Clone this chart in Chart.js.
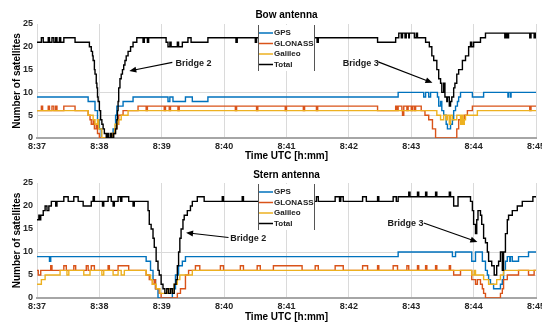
<!DOCTYPE html>
<html>
<head>
<meta charset="utf-8">
<script src="https://cdn.jsdelivr.net/npm/chart.js@4.4.0/dist/chart.umd.min.js"></script>
<style>
  html, body { margin: 0; padding: 0; background: #fff; }
  .panel { width: 542px; height: 161px; }
</style>
</head>
<body>
<div class="panel"><canvas id="bow" width="542" height="161"></canvas></div>
<div class="panel"><canvas id="stern" width="542" height="161"></canvas></div>
<script>
// time in minutes after 8:37, value = number of satellites (step data)
const seriesNames = ['GPS', 'GLONASS', 'Galileo', 'Total'];
const tickLabels = ['8:37', '8:38', '8:39', '8:40', '8:41', '8:42', '8:43', '8:44', '8:45'];

// Bow antenna
const bowGps = [[0,9],[0.82,8],[0.93,6],[0.97,4],[1.00,2],[1.03,0],[1.22,2],[1.26,5],[1.28,7],[1.38,8],[1.54,9],
  [2.10,8],[2.13,9],[2.18,8],[2.38,9],[2.49,8],[2.74,9],[5.79,10],[6.20,9],[6.23,10],[6.28,9],[6.31,10],[6.42,9],
  [6.44,7],[6.47,8],[6.49,6],[6.52,5],[6.56,3],[6.58,2],[6.63,3],[6.66,4],[6.68,6],[6.71,7],[6.74,8],[6.76,9],
  [6.79,10],[6.98,9],[7.16,10],[7.55,9],[7.56,10],[7.59,9],[7.60,10],[8,10]];
const bowGlonass = [[0,6],[0.07,7],[0.09,6],[0.18,7],[0.20,6],[0.24,7],[0.27,6],[0.30,7],[0.32,6],[0.43,7],[0.61,6],
  [0.82,5],[0.85,4],[0.87,3],[0.90,4],[0.92,2],[0.95,3],[0.97,1],[1.00,0],[1.22,1],[1.25,2],[1.28,3],[1.31,5],
  [1.38,6],[1.62,7],[1.75,6],[1.77,7],[2.04,6],[2.06,7],[2.12,6],[2.14,7],[2.26,6],[2.28,7],[3.18,6],[3.20,7],
  [3.52,6],[3.54,7],[3.98,6],[4.00,7],[4.27,6],[4.29,7],[4.48,6],[4.50,7],[5.46,6],[5.75,7],[5.77,6],[5.79,7],
  [5.85,6],[5.86,5],[5.88,7],[5.93,6],[5.95,7],[6.00,6],[6.02,7],[6.05,6],[6.07,7],[6.16,6],[6.22,5],[6.28,4],
  [6.34,2],[6.39,0],[6.73,2],[6.76,4],[6.85,5],[6.90,6],[6.98,7],[7.90,6],[7.92,7],[8,7]];
const bowGalileo = [[0,6],[0.82,5],[0.90,4],[0.93,3],[0.97,4],[0.99,2],[1.04,0],[1.20,1],[1.25,3],[1.30,4],[1.35,5],
  [1.46,6],[6.41,5],[6.47,4],[6.52,5],[6.56,4],[6.58,5],[6.61,3],[6.63,5],[6.66,4],[6.73,5],[6.79,3],[6.81,5],
  [6.83,3],[6.85,4],[6.87,5],[7.06,6],[8,6]];
const bowTotal = [[0,21],[0.07,22],[0.10,21],[0.18,22],[0.20,21],[0.24,22],[0.27,21],[0.30,22],[0.32,21],[0.36,22],
  [0.38,21],[0.43,22],[0.61,21],[0.84,20],[0.87,19],[0.89,18],[0.90,17],[0.92,15],[0.93,14],[0.95,12],[0.96,11],
  [0.97,9],[0.98,8],[1.00,6],[1.02,4],[1.04,3],[1.06,2],[1.08,1],[1.11,0],[1.13,1],[1.15,0],[1.18,1],[1.20,0],
  [1.23,1],[1.26,2],[1.28,4],[1.29,6],[1.30,8],[1.31,11],[1.33,13],[1.35,14],[1.37,15],[1.39,16],[1.41,17],
  [1.43,18],[1.46,19],[1.50,20],[1.54,21],[1.60,22],[1.70,21],[1.72,22],[1.77,21],[1.79,22],[2.07,21],[2.10,20],
  [2.13,21],[2.15,20],[2.25,21],[2.27,20],[2.33,21],[2.42,22],[2.47,21],[2.74,22],[3.19,21],[3.21,22],[3.50,21],
  [3.52,22],[4.49,21],[4.51,22],[5.46,21],[5.75,22],[5.80,23],[5.84,22],[5.86,23],[5.90,22],[5.92,23],[5.96,22],
  [5.97,23],[6.05,22],[6.08,23],[6.10,22],[6.23,21],[6.29,20],[6.33,18],[6.36,17],[6.41,15],[6.44,13],[6.47,12],
  [6.49,10],[6.52,12],[6.54,9],[6.57,8],[6.58,9],[6.61,7],[6.63,8],[6.65,9],[6.68,11],[6.70,12],[6.73,14],
  [6.76,15],[6.82,17],[6.87,18],[6.92,20],[6.95,21],[6.97,20],[7.00,21],[7.11,22],[7.19,23],[7.50,22],[7.52,23],
  [7.54,22],[7.56,23],[7.90,22],[7.92,23],[7.97,22],[7.99,23],[8,23]];

// Stern antenna
const sternGps = [[0,9],[0.20,8],[0.22,9],[1.75,8],[1.82,6],[1.86,4],[1.90,2],[1.94,0],[2.17,2],[2.22,5],[2.27,7],
  [2.33,8],[2.38,9],[5.79,10],[6.66,9],[6.71,10],[6.97,8],[7.03,10],[7.14,8],[7.19,6],[7.22,5],[7.24,4],[7.27,3],
  [7.32,2],[7.43,3],[7.46,4],[7.48,6],[7.51,8],[7.54,9],[7.58,8],[7.59,9],[7.62,8],[7.72,9],[7.88,10],[8,10]];
const sternGlonass = [[0,6],[0.02,5],[0.06,6],[0.22,7],[0.24,6],[0.43,7],[0.47,6],[0.59,7],[0.62,6],[0.79,7],[0.82,6],
  [0.87,7],[0.92,6],[1.14,7],[1.16,6],[1.30,7],[1.47,6],[1.75,5],[1.80,4],[1.85,3],[1.88,4],[1.90,2],[1.96,1],
  [1.99,0],[2.25,1],[2.30,2],[2.38,5],[2.43,6],[2.54,7],[2.61,6],[2.94,7],[2.99,6],[3.26,7],[3.31,6],[3.53,7],
  [3.58,6],[3.79,7],[4.25,6],[4.46,7],[4.51,6],[4.78,7],[4.91,6],[5.22,7],[5.30,6],[5.46,7],[5.48,6],[5.71,7],
  [5.78,6],[5.93,7],[5.96,6],[6.10,7],[6.12,6],[6.23,7],[6.25,6],[6.39,7],[6.41,6],[6.61,7],[6.63,6],[6.68,5],
  [6.79,6],[6.97,4],[7.03,3],[7.06,4],[7.11,3],[7.14,2],[7.16,1],[7.19,0],[7.43,1],[7.46,2],[7.48,4],[7.54,5],
  [7.72,6],[7.88,5],[7.97,6],[8,6]];
const sternGalileo = [[0,3],[0.07,4],[0.13,5],[0.37,6],[0.48,5],[0.51,6],[0.75,5],[0.85,6],[1.04,5],[1.07,6],[1.22,5],
  [1.30,6],[1.35,5],[1.40,6],[1.75,5],[1.82,4],[1.85,3],[1.91,2],[1.97,1],[2.10,2],[2.17,1],[2.20,3],[2.25,4],
  [2.29,5],[2.49,6],[6.97,5],[7.01,6],[7.03,5],[7.16,4],[7.24,3],[7.37,4],[7.43,5],[7.48,6],[8,6]];
const sternTotal = [[0,17],[0.03,18],[0.05,17],[0.06,18],[0.10,19],[0.13,20],[0.16,19],[0.19,20],[0.23,21],[0.30,20],
  [0.32,21],[0.43,22],[0.50,21],[0.59,22],[0.66,21],[0.74,20],[0.87,21],[0.90,22],[0.92,21],[1.05,20],[1.07,21],
  [1.14,22],[1.19,21],[1.22,20],[1.24,21],[1.30,22],[1.34,21],[1.36,22],[1.47,21],[1.54,20],[1.56,21],[1.78,19],
  [1.80,16],[1.83,15],[1.86,13],[1.88,11],[1.91,8],[1.94,6],[1.96,5],[1.99,3],[2.02,2],[2.05,1],[2.08,2],[2.11,1],
  [2.14,2],[2.17,1],[2.20,3],[2.23,4],[2.25,7],[2.27,10],[2.29,13],[2.31,15],[2.34,17],[2.36,18],[2.41,19],
  [2.46,20],[2.49,21],[2.57,22],[2.68,21],[2.97,22],[2.99,21],[3.29,22],[3.31,21],[4.48,22],[4.51,21],[4.78,22],
  [4.85,21],[4.87,22],[4.91,21],[5.22,22],[5.28,21],[5.46,22],[5.48,21],[5.71,22],[5.76,21],[5.79,22],[5.96,23],
  [5.98,22],[6.10,23],[6.12,22],[6.23,23],[6.25,22],[6.39,23],[6.41,22],[6.61,23],[6.63,22],[6.68,20],[6.75,22],
  [6.95,21],[6.98,19],[7.00,16],[7.03,14],[7.05,17],[7.07,19],[7.11,18],[7.13,16],[7.16,13],[7.19,12],[7.22,10],
  [7.24,8],[7.29,7],[7.33,5],[7.37,7],[7.40,8],[7.43,10],[7.46,6],[7.48,10],[7.51,14],[7.54,17],[7.56,18],
  [7.62,19],[7.70,20],[7.78,21],[7.95,22],[8,22]];

// annotation arrows: text anchor, arrow start, arrow head (time, satellites)
const bowNotes = [
  { label: 'Bridge 2', at: [2.22, 16.4], from: [2.17, 16.6], to: [1.48, 14.7] },
  { label: 'Bridge 3', at: [4.90, 16.4], from: [5.47, 16.7], to: [6.34, 12.1] }
];
const sternNotes = [
  { label: 'Bridge 2', at: [3.10, 13.0], from: [3.07, 13.15], to: [2.39, 14.2] },
  { label: 'Bridge 3', at: [5.62, 16.3], from: [6.20, 16.3], to: [7.06, 12.2] }
];

const colors = ['#0072bd', '#d95319', '#edb120', '#000000'];
Chart.defaults.font.family = '"Liberation Sans", Arial, sans-serif';
Chart.defaults.color = '#262626';

function pts(arr) {
    return arr.map(p => ({ x: p[0], y: p[1] }));
}

const legendBox = {
    id: 'legendBox',
    afterDatasetsDraw(chart) {
        const ctx = chart.ctx;
        const top = chart.chartArea.top + 1;
        const left = 258, right = 315, bottom = top + 46;
        ctx.save();
        ctx.fillStyle = '#fff';
        ctx.fillRect(left, top, right - left, bottom - top);
        ctx.strokeStyle = '#555';
        ctx.lineWidth = 1;
        ctx.beginPath();
        ctx.moveTo(left + 0.5, top); ctx.lineTo(left + 0.5, bottom);
        ctx.moveTo(right - 0.5, top); ctx.lineTo(right - 0.5, bottom);
        ctx.stroke();
        ctx.font = 'bold 8px "Liberation Sans", Arial, sans-serif';
        ctx.textBaseline = 'middle';
        chart.data.datasets.forEach((ds, i) => {
            const y = top + 8 + i * 10.5;
            ctx.strokeStyle = ds.borderColor;
            ctx.lineWidth = 1.5;
            ctx.beginPath();
            ctx.moveTo(left + 1, y); ctx.lineTo(left + 15, y);
            ctx.stroke();
            ctx.fillStyle = '#222';
            ctx.fillText(ds.label, left + 16, y);
        });
        ctx.restore();
    }
};

const bridgeNotes = {
    id: 'bridgeNotes',
    afterDatasetsDraw(chart, args, opts) {
        const ctx = chart.ctx;
        const xs = chart.scales.x, ys = chart.scales.y;
        ctx.save();
        (opts.notes || []).forEach(n => {
            const x0 = xs.getPixelForValue(n.from[0]), y0 = ys.getPixelForValue(n.from[1]);
            const x1 = xs.getPixelForValue(n.to[0]), y1 = ys.getPixelForValue(n.to[1]);
            const a = Math.atan2(y1 - y0, x1 - x0);
            ctx.strokeStyle = '#000';
            ctx.lineWidth = 1.2;
            ctx.beginPath();
            ctx.moveTo(x0, y0);
            ctx.lineTo(x1 - 5 * Math.cos(a), y1 - 5 * Math.sin(a));
            ctx.stroke();
            ctx.fillStyle = '#000';
            ctx.beginPath();
            ctx.moveTo(x1, y1);
            ctx.lineTo(x1 - 7 * Math.cos(a) + 3 * Math.sin(a), y1 - 7 * Math.sin(a) - 3 * Math.cos(a));
            ctx.lineTo(x1 - 7 * Math.cos(a) - 3 * Math.sin(a), y1 - 7 * Math.sin(a) + 3 * Math.cos(a));
            ctx.closePath();
            ctx.fill();
            ctx.font = 'bold 9px "Liberation Sans", Arial, sans-serif';
            ctx.textBaseline = 'middle';
            ctx.fillStyle = '#1a1a1a';
            ctx.fillText(n.label, xs.getPixelForValue(n.at[0]), ys.getPixelForValue(n.at[1]));
        });
        ctx.restore();
    }
};

function makeChart(id, title, series, notes, titlePad, xHeight) {
    const datasets = series.map((s, i) => ({
        label: seriesNames[i],
        data: pts(s),
        borderColor: colors[i],
        borderWidth: 1.4,
        pointRadius: 0,
        stepped: true,
        fill: false,
        order: 3 - i
    }));
    return new Chart(document.getElementById(id), {
        type: 'line',
        data: { datasets: datasets },
        options: {
            responsive: false,
            animation: false,
            devicePixelRatio: 1,
            layout: { padding: { left: 0, right: 6, top: 0, bottom: 0 } },
            plugins: {
                legend: { display: false },
                tooltip: { enabled: false },
                title: {
                    display: true,
                    text: title,
                    fullSize: false,
                    color: '#000',
                    font: { size: 10, weight: 'bold', lineHeight: 1.2 },
                    padding: titlePad
                },
                bridgeNotes: { notes: notes }
            },
            scales: {
                x: {
                    type: 'linear',
                    min: 0,
                    max: 8,
                    ticks: {
                        stepSize: 1,
                        autoSkip: false,
                        maxRotation: 0,
                        padding: 3,
                        font: { size: 9, weight: 'bold' },
                        callback: v => tickLabels[v]
                    },
                    grid: { color: '#dadada', drawTicks: false },
                    border: { color: '#a6a6a6', width: 2 },
                    title: {
                        display: true,
                        text: 'Time UTC [h:mm]',
                        color: '#000',
                        font: { size: 10, weight: 'bold', lineHeight: 0.9 },
                        padding: 0
                    },
                    afterFit: s => { s.height = xHeight; s.paddingLeft = 0; s.paddingRight = 0; }
                },
                y: {
                    min: 0,
                    max: 25,
                    ticks: { stepSize: 5, padding: 4, font: { size: 9, weight: 'bold' } },
                    grid: {
                        color: c => (c.tick.value === 5 || c.tick.value === 10) ? '#dadada' : 'rgba(0,0,0,0)',
                        drawTicks: false
                    },
                    border: { display: false },
                    title: {
                        display: true,
                        text: 'Number of satellites',
                        color: '#000',
                        font: { size: 10, weight: 'bold', lineHeight: 1.2 },
                        padding: { top: 11, bottom: 0 }
                    },
                    afterFit: s => { s.width = 37; }
                }
            }
        },
        plugins: [legendBox, bridgeNotes]
    });
}

makeChart('bow', 'Bow antenna', [bowGps, bowGlonass, bowGalileo, bowTotal], bowNotes, { top: 9.5, bottom: 2.5 }, 23);
makeChart('stern', 'Stern antenna', [sternGps, sternGlonass, sternGalileo, sternTotal], sternNotes, { top: 8, bottom: 2 }, 24);
</script>
</body>
</html>
